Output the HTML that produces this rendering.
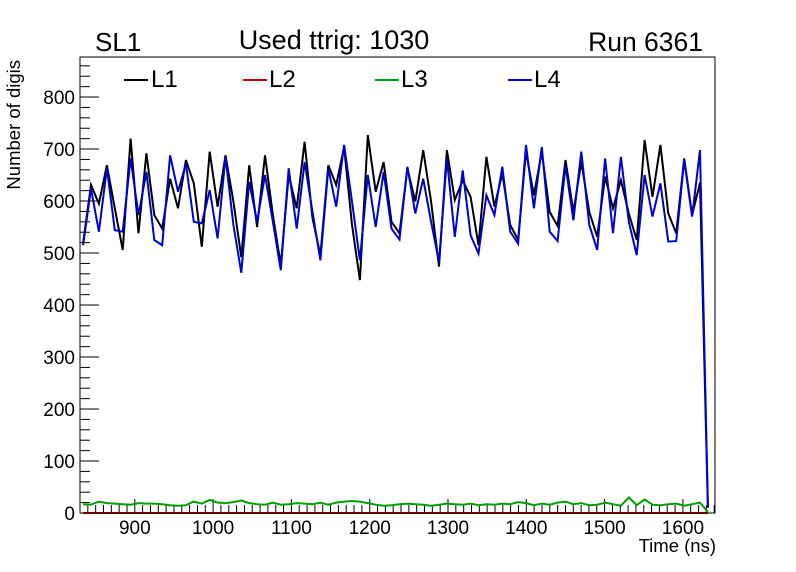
<!DOCTYPE html>
<html><head><meta charset="utf-8"><style>
body{margin:0;background:#fff;}
svg{display:block;font-family:"Liberation Sans",sans-serif;}
</style></head><body>
<svg id="chart" width="796" height="572" viewBox="0 0 796 572">
<rect width="796" height="572" fill="#fff"/>
<text x="95" y="51" font-size="26">SL1</text>
<text x="334" y="49" font-size="27" text-anchor="middle">Used ttrig: 1030</text>
<text x="703" y="51" font-size="26.5" text-anchor="end">Run 6361</text>
<g id="plot"></g>
<g id="axes"></g>
<rect x="80" y="57" width="635" height="456" fill="none" stroke="#000" stroke-width="1"/>
<text transform="translate(20,60) rotate(-90)" font-size="18.5" text-anchor="end">Number of digis</text>
<text x="716" y="552" font-size="18.5" text-anchor="end">Time (ns)</text>
<g>
<g><line x1="124" y1="80" x2="148" y2="80" stroke="#000" stroke-width="2"/><text x="151" y="87" font-size="24">L1</text></g>
<g><line x1="243" y1="80" x2="267" y2="80" stroke="#d00000" stroke-width="2"/><text x="269" y="87" font-size="24">L2</text></g>
<g><line x1="375" y1="80" x2="399" y2="80" stroke="#00a000" stroke-width="2"/><text x="401" y="87" font-size="24">L3</text></g>
<g><line x1="508" y1="80" x2="532" y2="80" stroke="#0000d0" stroke-width="2"/><text x="534" y="87" font-size="24">L4</text></g>
</g>
</svg>
<script>
const binStart = 834;
const binWidth = 10.1;
const l1 = [519,631,595,669,586,506,720,538,692,573,547,643,586,679,634,512,695,589,688,599,492,669,550,688,573,477,650,586,714,567,496,669,631,704,554,448,727,618,675,560,538,663,599,698,599,474,698,602,640,608,515,685,589,653,554,525,695,611,695,579,552,679,579,675,579,531,647,586,640,576,525,717,608,708,576,538,682,573,635,10];
const l4 = [515,624,541,663,544,541,682,573,656,525,515,688,618,672,560,557,621,528,685,554,462,637,560,650,560,467,663,547,675,579,486,663,589,708,599,486,650,550,656,547,526,666,576,643,560,483,682,531,659,534,499,611,573,666,541,518,708,586,704,541,523,669,563,695,554,506,682,538,685,560,496,650,570,634,522,523,679,570,698,12];
const l3 = [17,16,22,19,18,17,16,19,18,18,17,15,14,15,22,18,25,20,19,21,24,19,17,16,20,16,17,19,18,17,20,16,20,22,23,22,19,16,14,15,17,18,17,16,14,16,18,17,16,18,15,17,16,18,17,21,19,15,18,16,20,22,17,19,15,16,20,17,14,30,15,26,16,15,17,18,14,17,20,2];
const l2 = l1.map(() => 0);
const yTicks = [0,100,200,300,400,500,600,700,800];
const xTicks = [900,1000,1100,1200,1300,1400,1500,1600];

const X0=80, X1=715, Y0=513, Y1=57, xmin=830, xmax=1641, ymin=0, ymax=877;
function xs(t){return X0+(t-xmin)/(xmax-xmin)*(X1-X0);}
function ys(v){return Y0-(v-ymin)/(ymax-ymin)*(Y0-Y1);}
const NS='http://www.w3.org/2000/svg';
const plot=document.getElementById('plot'), axes=document.getElementById('axes');
function mk(tag,attrs,parent){const e=document.createElementNS(NS,tag);for(const k in attrs)e.setAttribute(k,attrs[k]);parent.appendChild(e);return e;}

function series(vals,color,name){
  const pts=vals.map((v,i)=>xs(binStart+binWidth*i).toFixed(1)+','+ys(v).toFixed(1)).join(' ');
  const p=mk('polyline',{points:pts,fill:'none',stroke:color,'stroke-width':2,'stroke-linejoin':'miter'},plot);
  
  
}

// x ticks (drawn under series)
for(let t0=840; t0<=xmax; t0+=10){
  const major = t0%100===0;
  const t=mk('line',{x1:xs(t0),y1:Y0,x2:xs(t0),y2:Y0-(major?14:8),stroke:'#000','stroke-width':1},plot);
  
  
}
series(l2,'#d00000','series-l2');
series(l3,'#00a000','series-l3');
series(l1,'#000000','series-l1');
series(l4,'#0000d0','series-l4');

// y ticks
for(let v=0; v<=ymax; v+=20){
  const major = v%100===0;
  const t=mk('line',{x1:X0,y1:ys(v),x2:X0+(major?19:10),y2:ys(v),stroke:'#000','stroke-width':1},axes);
  
  
}
yTicks.forEach(v=>{
  const t=mk('text',{x:75,y:ys(v)+7,'font-size':19,'text-anchor':'end'},axes);
  t.textContent=v;
  
  
});
xTicks.forEach(v=>{
  const t=mk('text',{x:xs(v),y:534,'font-size':19,'text-anchor':'middle'},axes);
  t.textContent=v;
  
  
});
</script>
</body></html>
